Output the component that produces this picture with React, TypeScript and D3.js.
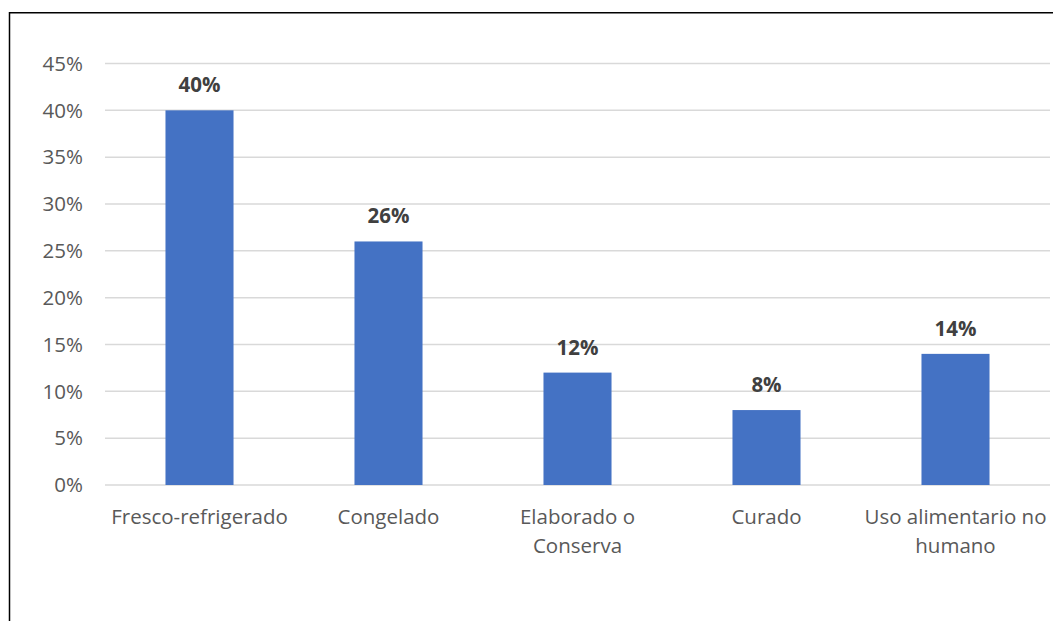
import React from "react";
import * as d3 from "d3";

const categories = [
  ["Fresco-refrigerado"],
  ["Congelado"],
  ["Elaborado o", "Conserva"],
  ["Curado"],
  ["Uso alimentario no", "humano"],
];
const values = [0.4, 0.26, 0.12, 0.08, 0.14];
const yTicks = [0, 0.05, 0.1, 0.15, 0.2, 0.25, 0.3, 0.35, 0.4, 0.45];

const W = 1053;
const H = 621;
const FONT = "'Open Sans', sans-serif";
const FS = 20.5;

export default function App() {
  const x = d3
    .scaleBand<number>()
    .domain(d3.range(values.length))
    .range([105, 1050])
    .paddingInner(0.64)
    .paddingOuter(0.32);
  const y = d3.scaleLinear().domain([0, 0.45]).range([485, 63.5]);
  const fmt = d3.format(".0%");

  return (
    <svg
      width={W}
      height={H}
      style={{ position: "absolute", left: 0, top: 0, background: "#fff" }}
      fontFamily={FONT}
    >
      {yTicks.map((t) => (
        <g key={t}>
          <line x1={105} x2={1050} y1={y(t)} y2={y(t)} stroke="#d9d9d9" strokeWidth={1.5} />
          <text x={83} y={y(t) + 7.2} textAnchor="end" fontSize={FS} fill="#595959">
            {fmt(t)}
          </text>
        </g>
      ))}
      {values.map((v, i) => (
        <g key={i}>
          <rect
            x={x(i)}
            y={y(v)}
            width={x.bandwidth()}
            height={y(0) - y(v)}
            fill="#4472C4"
          />
          <text
            x={x(i)! + x.bandwidth() / 2}
            y={y(v) - 18}
            textAnchor="middle"
            fontSize={FS}
            fontWeight="bold"
            fill="#404040"
          >
            {fmt(v)}
          </text>
          {categories[i].map((line, j) => (
            <text
              key={j}
              x={x(i)! + x.bandwidth() / 2}
              y={523.5 + j * 29.5}
              textAnchor="middle"
              fontSize={FS}
              fill="#595959"
            >
              {line}
            </text>
          ))}
        </g>
      ))}
      <line x1={9.5} x2={9.5} y1={12} y2={H} stroke="#000" strokeWidth={1.5} />
      <line x1={9} x2={W} y1={12.8} y2={12.8} stroke="#000" strokeWidth={1.5} />
    </svg>
  );
}
